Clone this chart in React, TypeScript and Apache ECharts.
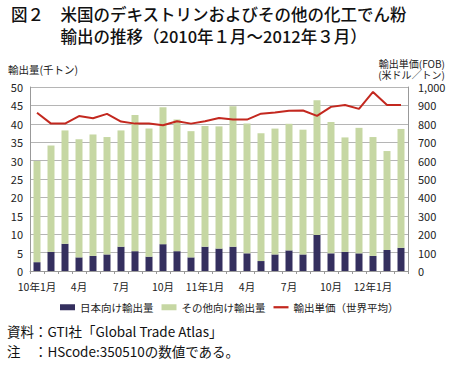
import React, { useEffect, useRef } from "react";
import * as echarts from "echarts";

const categories = [
  "10年1月", "2月", "3月", "4月", "5月", "6月", "7月", "8月", "9月", "10月", "11月", "12月",
  "11年1月", "2月", "3月", "4月", "5月", "6月", "7月", "8月", "9月", "10月", "11月", "12月",
  "12年1月", "2月", "3月",
];
// 日本向け輸出量 (千トン)
const japanExports = [
  2.4, 5.2, 7.4, 3.7, 4.1, 4.5, 6.6, 5.4, 3.9, 7.3, 5.4, 3.7,
  6.6, 6.1, 6.6, 4.8, 2.7, 4.5, 5.6, 4.5, 9.8, 4.8, 5.2, 4.8,
  4.1, 5.7, 6.3,
];
// 総輸出量 (千トン) — その他向け = 総量 − 日本向け
const totalExports = [
  29.9, 34.1, 38.2, 35.8, 37.1, 36.4, 38.2, 42.4, 38.7, 44.5, 41.2, 38.0,
  39.4, 39.3, 44.8, 40.1, 37.4, 38.7, 40.0, 38.4, 46.4, 40.5, 36.3, 38.9,
  36.4, 32.6, 38.6,
];
// 輸出単価 (世界平均, 米ドル/トン)
const unitPrice = [
  860, 801, 801, 842, 830, 854, 812, 801, 801, 792, 814, 801,
  814, 832, 823, 823, 855, 862, 871, 872, 843, 892, 902, 881,
  973, 902, 902,
];
const otherExports = totalExports.map((t, i) => Math.round((t - japanExports[i]) * 10) / 10);

const FONT = '"Noto Sans CJK JP", "Noto Sans", sans-serif';

export default function App() {
  const ref = useRef<HTMLDivElement>(null);
  useEffect(() => {
    if (!ref.current) return;
    const chart = echarts.init(ref.current, undefined, { renderer: "svg" });
    chart.setOption({
      animation: false,
      textStyle: { fontFamily: FONT },
      grid: { left: 30, right: 46, top: 87, bottom: 95, containLabel: false },
      legend: {
        left: 55,
        top: 297,
        itemWidth: 15,
        itemHeight: 6,
        itemGap: 8,
        textStyle: { fontSize: 10.5, color: "#222", fontFamily: FONT },
        data: [
          { name: "日本向け輸出量", icon: "rect" },
          { name: "その他向け輸出量", icon: "rect" },
          { name: "輸出単価（世界平均）", icon: "path://M0,0 L40,0 L40,6 L0,6 Z" },
        ],
      },
      xAxis: {
        type: "category",
        data: categories,
        axisLine: { lineStyle: { color: "#999" } },
        axisTick: { show: true, length: 3, lineStyle: { color: "#999" }, interval: 0 },
        axisLabel: { interval: 2, fontSize: 10.5, color: "#222", margin: 10 },
      },
      yAxis: [
        {
          type: "value",
          min: 0,
          max: 50,
          interval: 5,
          axisLine: { show: true, lineStyle: { color: "#999" } },
          axisTick: { show: false },
          splitLine: { lineStyle: { color: "#b5b5b5" } },
          axisLabel: { fontSize: 11, color: "#222", margin: 7 },
        },
        {
          type: "value",
          min: 0,
          max: 1000,
          interval: 100,
          axisLine: { show: true, lineStyle: { color: "#999" } },
          axisTick: { show: false },
          splitLine: { show: false },
          axisLabel: {
            fontSize: 11,
            color: "#222",
            margin: 10,
            formatter: (v: number) => v.toLocaleString("en-US"),
          },
        },
      ],
      series: [
        {
          name: "日本向け輸出量",
          type: "bar",
          stack: "exports",
          barWidth: 7,
          data: japanExports,
          itemStyle: { color: "#342f5e" },
        },
        {
          name: "その他向け輸出量",
          type: "bar",
          stack: "exports",
          barWidth: 7,
          data: otherExports,
          itemStyle: { color: "#c6d7a3" },
        },
        {
          name: "輸出単価（世界平均）",
          type: "line",
          yAxisIndex: 1,
          data: unitPrice,
          symbol: "none",
          showSymbol: false,
          lineStyle: { color: "#c3281f", width: 2 },
          itemStyle: { color: "#c3281f" },
        },
      ],
      graphic: [
        {
          type: "text",
          x: 11,
          y: 25,
          style: {
            text: "図２　米国のデキストリンおよびその他の化工でん粉\n　　　輸出の推移（2010年１月～2012年３月）",
            font: `500 16.5px ${FONT}`,
            lineHeight: 21.5,
            fill: "#111",
            verticalAlign: "middle",
          },
        },
        {
          type: "text",
          x: 8,
          y: 69,
          style: { text: "輸出量(千トン)", font: `10.5px ${FONT}`, fill: "#222", verticalAlign: "middle" },
        },
        {
          type: "text",
          x: 445,
          y: 68.5,
          style: {
            text: "輸出単価(FOB)\n(米ドル／トン)",
            font: `10px ${FONT}`,
            lineHeight: 11,
            fill: "#222",
            align: "right",
            verticalAlign: "middle",
          },
        },
        {
          type: "text",
          x: 7,
          y: 331,
          style: { text: "資料：GTI社「Global Trade Atlas」", font: `13.5px ${FONT}`, fill: "#111", verticalAlign: "middle" },
        },
        {
          type: "text",
          x: 7,
          y: 351,
          style: { text: "注　：HScode:350510の数値である。", font: `13.5px ${FONT}`, fill: "#111", verticalAlign: "middle" },
        },
      ],
    });
    return () => chart.dispose();
  }, []);
  return <div ref={ref} style={{ width: 454, height: 366, position: "absolute", left: 0, top: 0 }} />;
}
